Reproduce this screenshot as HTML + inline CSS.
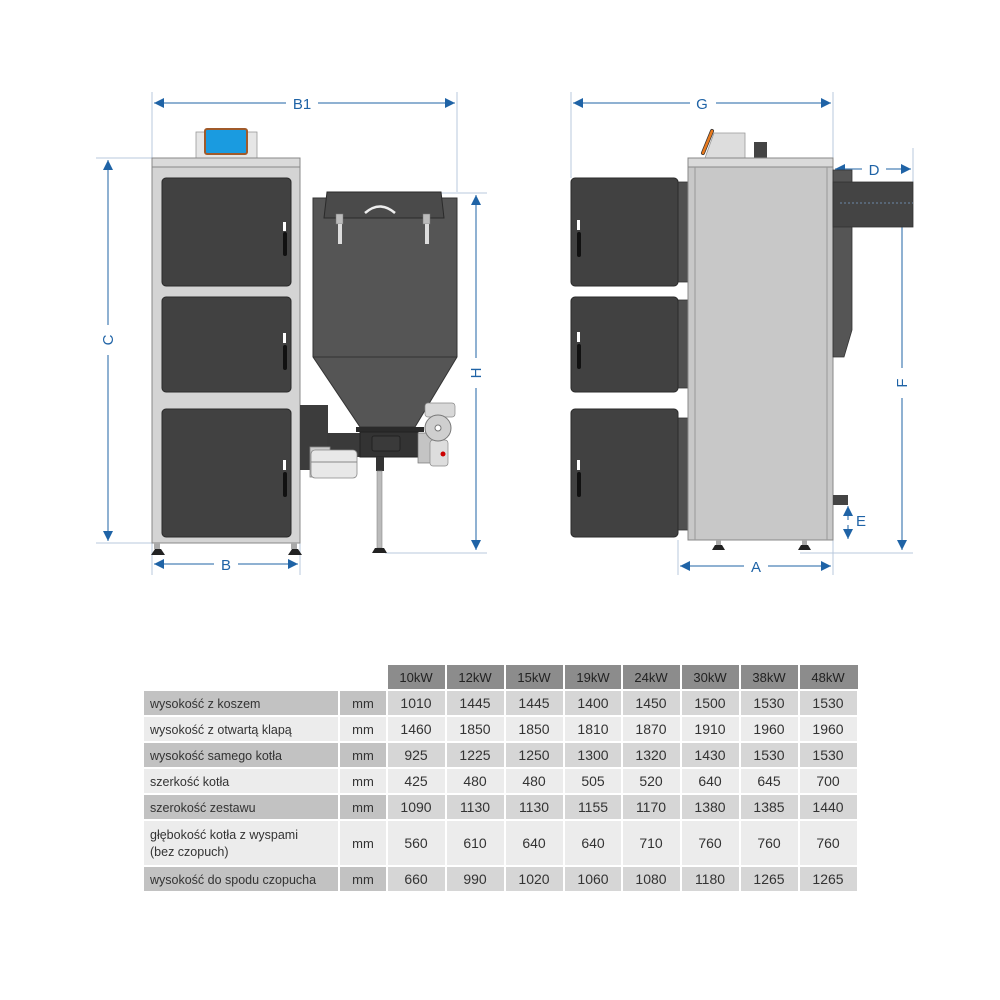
<!DOCTYPE html>
<html><head><meta charset="utf-8"><style>
body{margin:0;background:#fff;}
svg{display:block}
text{font-family:"Liberation Sans",sans-serif}
</style></head><body>
<svg width="1000" height="1000" viewBox="0 0 1000 1000" xmlns="http://www.w3.org/2000/svg">
<defs>
<marker id="a" viewBox="0 0 10 10" refX="10" refY="5" markerWidth="14" markerHeight="10" markerUnits="userSpaceOnUse" orient="auto-start-reverse"><path d="M0,0 L10,5 L0,10 z" fill="#1f63a6"/></marker>
</defs>
<g stroke="#b8c8dc" stroke-width="1">
<line x1="152" y1="92" x2="152" y2="575"/><line x1="457" y1="92" x2="457" y2="192"/>
<line x1="96" y1="158" x2="152" y2="158"/><line x1="96" y1="543" x2="152" y2="543"/>
<line x1="300" y1="543" x2="300" y2="575"/><line x1="440" y1="193" x2="487" y2="193"/><line x1="385" y1="553" x2="487" y2="553"/>
<line x1="571" y1="92" x2="571" y2="178"/><line x1="833" y1="92" x2="833" y2="575"/>
<line x1="678" y1="540" x2="678" y2="575"/><line x1="913" y1="148" x2="913" y2="182"/><line x1="800" y1="553" x2="913" y2="553"/>
</g>
<g stroke="#1f63a6" stroke-width="1" fill="none">
<line x1="154" y1="103" x2="286" y2="103" marker-start="url(#a)"/><line x1="318" y1="103" x2="455" y2="103" marker-end="url(#a)"/>
<line x1="108" y1="160" x2="108" y2="325" marker-start="url(#a)"/><line x1="108" y1="355" x2="108" y2="541" marker-end="url(#a)"/>
<line x1="476" y1="195" x2="476" y2="358" marker-start="url(#a)"/><line x1="476" y1="388" x2="476" y2="550" marker-end="url(#a)"/>
<line x1="154" y1="564" x2="214" y2="564" marker-start="url(#a)"/><line x1="238" y1="564" x2="298" y2="564" marker-end="url(#a)"/>
<line x1="573" y1="103" x2="690" y2="103" marker-start="url(#a)"/><line x1="716" y1="103" x2="831" y2="103" marker-end="url(#a)"/>
<line x1="835" y1="169" x2="862" y2="169" marker-start="url(#a)"/><line x1="886" y1="169" x2="911" y2="169" marker-end="url(#a)"/>
<line x1="902" y1="203" x2="902" y2="368" marker-start="url(#a)"/><line x1="902" y1="398" x2="902" y2="550" marker-end="url(#a)"/>
<line x1="848" y1="506" x2="848" y2="520" marker-start="url(#a)"/><line x1="848" y1="525" x2="848" y2="539" marker-end="url(#a)"/>
<line x1="680" y1="566" x2="744" y2="566" marker-start="url(#a)"/><line x1="768" y1="566" x2="831" y2="566" marker-end="url(#a)"/>
</g>
<g fill="#1f63a6" font-size="15">
<text x="302" y="109" text-anchor="middle">B1</text>
<text x="226" y="570" text-anchor="middle">B</text>
<text x="702" y="109" text-anchor="middle">G</text>
<text x="874" y="175" text-anchor="middle">D</text>
<text x="756" y="572" text-anchor="middle">A</text>
<text x="856" y="526">E</text>
<text transform="translate(113,340) rotate(-90)" text-anchor="middle">C</text>
<text transform="translate(481,373) rotate(-90)" text-anchor="middle">H</text>
<text transform="translate(907,383) rotate(-90)" text-anchor="middle">F</text>
</g>
<!-- left boiler -->
<rect x="196" y="132" width="61" height="26" fill="#e6e6e6" stroke="#999" stroke-width="0.8"/>
<rect x="205" y="129" width="42" height="25" rx="2" fill="#1a9be0" stroke="#a05a2a" stroke-width="2"/>
<rect x="152" y="158" width="148" height="385" fill="#d4d4d4" stroke="#888" stroke-width="1"/>
<rect x="152" y="158" width="148" height="9" fill="#dadada" stroke="#888" stroke-width="1"/>
<g fill="#414141" stroke="#2a2a2a" stroke-width="1">
<rect x="162" y="178" width="129" height="108" rx="4"/>
<rect x="162" y="297" width="129" height="95" rx="4"/>
<rect x="162" y="409" width="129" height="128" rx="4"/>
</g>
<g fill="#111"><rect x="283" y="232" width="4" height="24" rx="2"/><rect x="283" y="345" width="4" height="25" rx="2"/><rect x="283" y="472" width="4" height="25" rx="2"/></g>
<g fill="#fff"><rect x="283" y="222" width="3" height="9"/><rect x="283" y="333" width="3" height="10"/><rect x="283" y="460" width="3" height="10"/></g>
<g fill="#222"><rect x="154" y="543" width="6" height="6" fill="#aaa"/><path d="M151,555 l4,-6 h6 l4,6z"/><rect x="291" y="543" width="6" height="6" fill="#aaa"/><path d="M288,555 l4,-6 h6 l4,6z"/></g>
<!-- hopper -->
<rect x="300" y="405" width="28" height="65" fill="#3c3c3c"/>
<rect x="327" y="433" width="34" height="24" fill="#3a3a3a"/>
<rect x="310" y="447" width="20" height="30" fill="#ccc" stroke="#888" stroke-width="0.8"/>
<rect x="311" y="450" width="46" height="28" rx="4" fill="#e8e8e8" stroke="#888" stroke-width="0.8"/>
<line x1="311" y1="462" x2="357" y2="462" stroke="#888"/>
<path d="M313,198 L457,198 L457,357 L415,427 L360,427 L313,357 Z" fill="#555" stroke="#333" stroke-width="1"/>
<line x1="313" y1="357" x2="457" y2="357" stroke="#333"/>
<path d="M327,192 L441,192 L444,218 L324,218 Z" fill="#4a4a4a" stroke="#2a2a2a" stroke-width="1"/>
<path d="M365,213 Q380,200 395,213" fill="none" stroke="#eee" stroke-width="2.5"/>
<rect x="336" y="214" width="7" height="10" fill="#bbb" stroke="#777" stroke-width="0.5"/><rect x="423" y="214" width="7" height="10" fill="#bbb" stroke="#777" stroke-width="0.5"/>
<rect x="338" y="224" width="4" height="20" fill="#ddd"/><rect x="425" y="224" width="4" height="20" fill="#ddd"/>
<rect x="356" y="427" width="68" height="5" fill="#2a2a2a"/>
<rect x="360" y="432" width="58" height="25" fill="#333" stroke="#222"/>
<rect x="372" y="436" width="28" height="15" rx="2" fill="#3a3a3a" stroke="#222"/>
<rect x="376" y="457" width="8" height="14" fill="#333"/>
<rect x="377" y="471" width="5" height="77" fill="#bbb" stroke="#888" stroke-width="0.6"/>
<path d="M372,553 l3,-5 h9 l3,5z" fill="#222"/>
<rect x="418" y="433" width="17" height="30" fill="#c4c4c4" stroke="#777" stroke-width="0.7"/>
<rect x="425" y="403" width="30" height="14" rx="3" fill="#d8d8d8" stroke="#888" stroke-width="0.7"/>
<rect x="430" y="440" width="18" height="26" rx="3" fill="#ddd" stroke="#888" stroke-width="0.7"/>
<circle cx="438" cy="428" r="13" fill="#cfcfcf" stroke="#777"/>
<circle cx="438" cy="428" r="3" fill="#fff" stroke="#777"/>
<circle cx="443" cy="454" r="2.5" fill="#c00"/>
<!-- right view -->
<path d="M714,133 L745,133 L745,158 L705,158 Z" fill="#ddd" stroke="#999" stroke-width="0.8"/>
<path d="M712,131 L703,153" stroke="#333" stroke-width="4" stroke-linecap="round"/><path d="M712,131 L703,153" stroke="#e87a1e" stroke-width="2.5" stroke-linecap="round"/>
<rect x="754" y="142" width="13" height="16" fill="#444"/>
<g fill="#505050" stroke="#333" stroke-width="0.8">
<rect x="676" y="182" width="14" height="100"/><rect x="676" y="300" width="14" height="88"/><rect x="676" y="418" width="14" height="112"/>
</g>
<g fill="#414141" stroke="#2a2a2a" stroke-width="1">
<rect x="571" y="178" width="107" height="108" rx="4"/>
<rect x="571" y="297" width="107" height="95" rx="4"/>
<rect x="571" y="409" width="107" height="128" rx="4"/>
</g>
<g fill="#111"><rect x="577" y="232" width="4" height="25" rx="2"/><rect x="577" y="344" width="4" height="25" rx="2"/><rect x="577" y="472" width="4" height="25" rx="2"/></g>
<g fill="#fff"><rect x="577" y="220" width="3" height="10"/><rect x="577" y="332" width="3" height="10"/><rect x="577" y="460" width="3" height="10"/></g>
<rect x="688" y="158" width="145" height="382" fill="#c8c8c8" stroke="#888"/>
<rect x="688" y="158" width="145" height="9" fill="#dadada" stroke="#888"/>
<line x1="695" y1="167" x2="695" y2="540" stroke="#999"/><line x1="827" y1="167" x2="827" y2="540" stroke="#999"/>
<path d="M833,170 L852,170 L852,330 L844,357 L833,357 Z" fill="#555" stroke="#333" stroke-width="0.8"/>
<rect x="833" y="182" width="80" height="45" fill="#444" stroke="#333" stroke-width="0.8"/>
<line x1="840" y1="203" x2="913" y2="203" stroke="#6d88a8" stroke-dasharray="2,2"/>
<rect x="833" y="495" width="15" height="10" fill="#444"/>
<g fill="#222"><rect x="716" y="540" width="5" height="5" fill="#aaa"/><path d="M712,550 l3,-5 h7 l3,5z"/><rect x="802" y="540" width="5" height="5" fill="#aaa"/><path d="M798,550 l3,-5 h7 l3,5z"/></g>
<!-- table -->
<g font-size="13" fill="#333" text-anchor="middle">
<rect x="387" y="665" width="471" height="25" fill="#8c8c8c"/>
<g stroke="#fff" stroke-width="2">
<rect x="143" y="690" width="715" height="26" fill="#d6d6d6"/>
<rect x="143" y="716" width="715" height="26" fill="#ececec"/>
<rect x="143" y="742" width="715" height="26" fill="#d6d6d6"/>
<rect x="143" y="768" width="715" height="26" fill="#ececec"/>
<rect x="143" y="794" width="715" height="26" fill="#d6d6d6"/>
<rect x="143" y="820" width="715" height="46" fill="#ececec"/>
<rect x="143" y="866" width="715" height="26" fill="#d6d6d6"/>
</g>
<g fill="#c2c2c2"><rect x="144" y="691" width="194" height="24"/><rect x="144" y="743" width="194" height="24"/><rect x="144" y="795" width="194" height="24"/><rect x="144" y="867" width="194" height="24"/>
<rect x="340" y="691" width="46" height="24"/><rect x="340" y="743" width="46" height="24"/><rect x="340" y="795" width="46" height="24"/><rect x="340" y="867" width="46" height="24"/></g>
<g stroke="#fff" stroke-width="2"><line x1="339" y1="690" x2="339" y2="892"/><line x1="387" y1="665" x2="387" y2="892"/>
<line x1="446" y1="665" x2="446" y2="892"/><line x1="505" y1="665" x2="505" y2="892"/><line x1="564" y1="665" x2="564" y2="892"/><line x1="622" y1="665" x2="622" y2="892"/><line x1="681" y1="665" x2="681" y2="892"/><line x1="740" y1="665" x2="740" y2="892"/><line x1="799" y1="665" x2="799" y2="892"/></g>
<g fill="#222"><text x="416" y="682">10kW</text><text x="475" y="682">12kW</text><text x="534" y="682">15kW</text><text x="593" y="682">19kW</text><text x="651" y="682">24kW</text><text x="710" y="682">30kW</text><text x="769" y="682">38kW</text><text x="828" y="682">48kW</text></g>
<g text-anchor="start" font-size="12.5"><text x="150" y="708">wysokość z koszem</text><text x="150" y="734">wysokość z otwartą klapą</text><text x="150" y="760">wysokość samego kotła</text><text x="150" y="786">szerkość kotła</text><text x="150" y="812">szerokość zestawu</text><text x="150" y="839">głębokość kotła z wyspami</text><text x="150" y="856">(bez czopuch)</text><text x="150" y="884">wysokość do spodu czopucha</text></g>
<g><text x="363" y="708">mm</text><text x="363" y="734">mm</text><text x="363" y="760">mm</text><text x="363" y="786">mm</text><text x="363" y="812">mm</text><text x="363" y="848">mm</text><text x="363" y="884">mm</text></g>
<g font-size="14">
<text x="416" y="708">1010</text><text x="475" y="708">1445</text><text x="534" y="708">1445</text><text x="593" y="708">1400</text><text x="651" y="708">1450</text><text x="710" y="708">1500</text><text x="769" y="708">1530</text><text x="828" y="708">1530</text>
<text x="416" y="734">1460</text><text x="475" y="734">1850</text><text x="534" y="734">1850</text><text x="593" y="734">1810</text><text x="651" y="734">1870</text><text x="710" y="734">1910</text><text x="769" y="734">1960</text><text x="828" y="734">1960</text>
<text x="416" y="760">925</text><text x="475" y="760">1225</text><text x="534" y="760">1250</text><text x="593" y="760">1300</text><text x="651" y="760">1320</text><text x="710" y="760">1430</text><text x="769" y="760">1530</text><text x="828" y="760">1530</text>
<text x="416" y="786">425</text><text x="475" y="786">480</text><text x="534" y="786">480</text><text x="593" y="786">505</text><text x="651" y="786">520</text><text x="710" y="786">640</text><text x="769" y="786">645</text><text x="828" y="786">700</text>
<text x="416" y="812">1090</text><text x="475" y="812">1130</text><text x="534" y="812">1130</text><text x="593" y="812">1155</text><text x="651" y="812">1170</text><text x="710" y="812">1380</text><text x="769" y="812">1385</text><text x="828" y="812">1440</text>
<text x="416" y="848">560</text><text x="475" y="848">610</text><text x="534" y="848">640</text><text x="593" y="848">640</text><text x="651" y="848">710</text><text x="710" y="848">760</text><text x="769" y="848">760</text><text x="828" y="848">760</text>
<text x="416" y="884">660</text><text x="475" y="884">990</text><text x="534" y="884">1020</text><text x="593" y="884">1060</text><text x="651" y="884">1080</text><text x="710" y="884">1180</text><text x="769" y="884">1265</text><text x="828" y="884">1265</text>
</g>
</g>
</svg>
</body></html>
